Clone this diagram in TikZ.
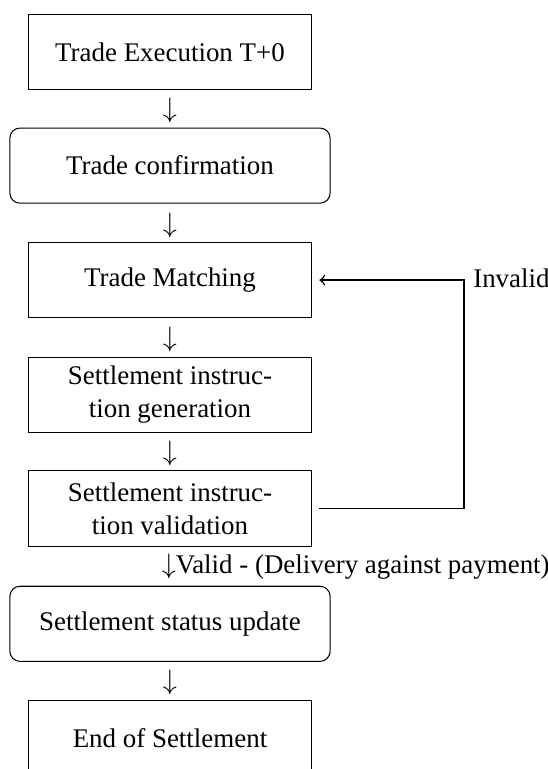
\documentclass[tikz,border=0pt]{standalone}
\usepackage{fontspec}
\setmainfont{Liberation Serif}
\begin{document}
\begin{tikzpicture}[
	font=\fontsize{10.5}{12.8}\selectfont,
	stepbox/.style={draw, minimum width=3.87cm, minimum height=1.03cm, align=center},
	roundbox/.style={stepbox, minimum width=4.39cm, rounded corners=0.14cm},
	downarr/.style={inner sep=0pt}
	]
			\useasboundingbox (0,0) rectangle (7.51,-10.54);
			\clip (0,0) rectangle (7.51,-10.54);
			
			\node[stepbox] (exec) at (2.33,-0.71) {Trade Execution T+0};
			\node[roundbox] (confirm) at (2.33,-2.27) {Trade confirmation};
			\node[stepbox] (match) at (2.33,-3.84) {Trade Matching};
			\node[stepbox] (gen) at (2.33,-5.41) {Settlement instruc-\\tion generation};
			\node[stepbox] (valid) at (2.33,-6.97) {Settlement instruc-\\tion validation};
			\node[roundbox] (status) at (2.33,-8.55) {Settlement status update};
			\node[stepbox] (end) at (2.33,-10.12) {End of Settlement};
			
			\node[downarr] (arr1) at (2.33,-1.52) {$\downarrow$};
			\node[downarr] (arr2) at (2.33,-3.09) {$\downarrow$};
			\node[downarr] (arr3) at (2.33,-4.65) {$\downarrow$};
			\node[downarr] (arr4) at (2.33,-6.22) {$\downarrow$};
			\node[downarr, anchor=west] (arr5) at (2.21,-7.76) {$\downarrow$Valid - (Delivery against payment)};
			\node[downarr] (arr6) at (2.33,-9.35) {$\downarrow$};
			
			\coordinate (corner) at (6.36,-3.84);
			\node[anchor=west, inner sep=0pt] (invalid) at (6.48,-3.82) {Invalid};
			\draw[->, line width=0.6pt, shorten <=3pt, shorten >=3pt] (valid.east) -| (corner) -- (match.east);
			
		\end{tikzpicture}
\end{document}
